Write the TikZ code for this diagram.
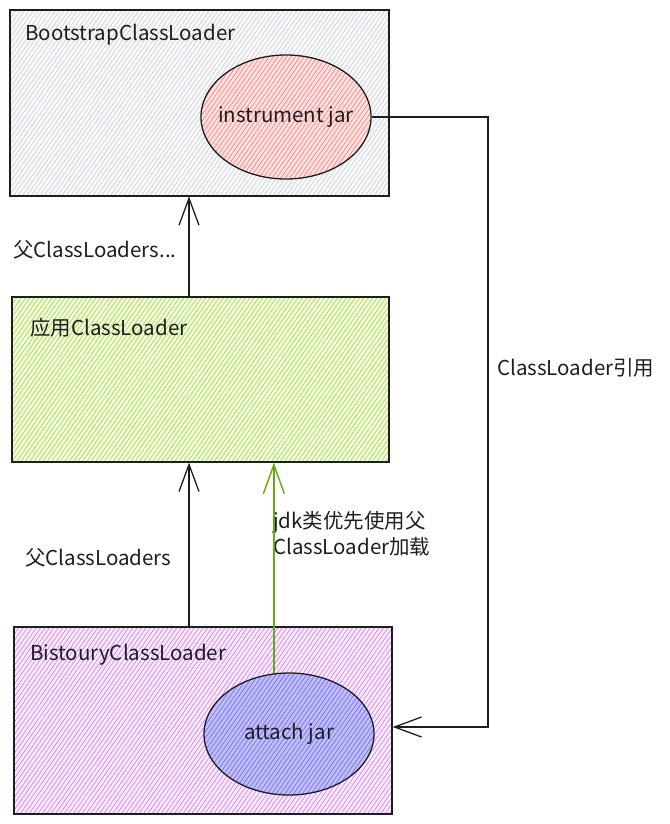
\documentclass[tikz,border=0pt]{standalone}
\usepackage{fontspec}
\setmainfont{Noto Sans CJK SC}
\usetikzlibrary{arrows.meta,patterns.meta,shapes.geometric}
\definecolor{ink}{HTML}{1E1E1E}
\definecolor{grayln}{HTML}{CFD3D8}
\definecolor{graybg}{HTML}{F8F9FA}
\definecolor{redln}{HTML}{FF7F7F}
\definecolor{redbg}{HTML}{FFE3E3}
\definecolor{greenln}{HTML}{A2DE3F}
\definecolor{greenbg}{HTML}{F4FCE3}
\definecolor{purpleln}{HTML}{D97FF2}
\definecolor{purplebg}{HTML}{F8ECFC}
\definecolor{blueln}{HTML}{6476F5}
\definecolor{bluebg}{HTML}{C5BDFA}
\definecolor{jdkgreen}{HTML}{66A80F}
\tikzset{
  box/.style={draw=ink,line width=1.3pt,rectangle,inner sep=0pt},
  jar/.style={draw=ink,line width=1.3pt,ellipse,inner sep=0pt},
  hatch/.style 2 args={preaction={fill=#2},pattern={Lines[angle=55,distance=3.6pt,line width=0.7pt]},pattern color=#1},
  lbl/.style={font=\fontsize{20.5}{24}\selectfont,text=ink,inner sep=0pt},
  arr/.style={draw=ink,line width=1.3pt,-{Straight Barb[length=27pt,width=20pt,line width=1.3pt]}},
  jdkarr/.style={draw=jdkgreen,line width=1.6pt,-{Straight Barb[length=29pt,width=21pt,line width=1.4pt]}},
}
\begin{document}
\begin{tikzpicture}[x=1pt,y=-1pt]
  \useasboundingbox (0,0) rectangle (669,824);
  % boxes
  \node[box,hatch={grayln}{graybg},minimum width=379pt,minimum height=186pt] (boot) at (199.5,103) {};
  \node[box,hatch={greenln}{greenbg},minimum width=377pt,minimum height=165pt] (app) at (200.5,379.5) {};
  \node[box,hatch={purpleln}{purplebg},minimum width=378pt,minimum height=187pt] (bist) at (203,720.5) {};
  % jars
  \node[jar,hatch={redln}{redbg},minimum width=170pt,minimum height=124pt] (instr) at (286,117) {};
  \node[jar,hatch={blueln}{bluebg},minimum width=170pt,minimum height=122pt] (attach) at (289,734) {};
  % texts
  \node[lbl,anchor=west] (bootname) at (25,35) {BootstrapClassLoader};
  \node[lbl] (instrname) at (instr.center) {instrument jar};
  \node[lbl,anchor=west] (appname) at (30,328) {应用ClassLoader};
  \node[lbl,anchor=west] (bistname) at (30,655) {BistouryClassLoader};
  \node[lbl] (attachname) at (attach.center) {attach jar};
  \node[lbl,anchor=west] (parent1) at (13,250) {父ClassLoaders...};
  \node[lbl,anchor=west] (parent2) at (25,558) {父ClassLoaders};
  \node[lbl,anchor=west,align=left] (jdk) at (273,534) {jdk类优先使用父\\[2pt]ClassLoader加载};
  \node[lbl,anchor=west] (ref) at (497,368) {ClassLoader引用};
  % connectors
  \coordinate (ax) at (189,0);
  \coordinate (rb) at (488,727);
  \draw[arr] (app.north -| ax) -- (boot.south -| ax);
  \draw[arr] (bist.north -| ax) -- (app.south -| ax);
  \draw[jdkarr] (attach.104) -- (attach.104 |- app.south);
  \draw[arr] (instr.east) -| (rb) -- (bist.east |- rb);
\end{tikzpicture}
\end{document}
